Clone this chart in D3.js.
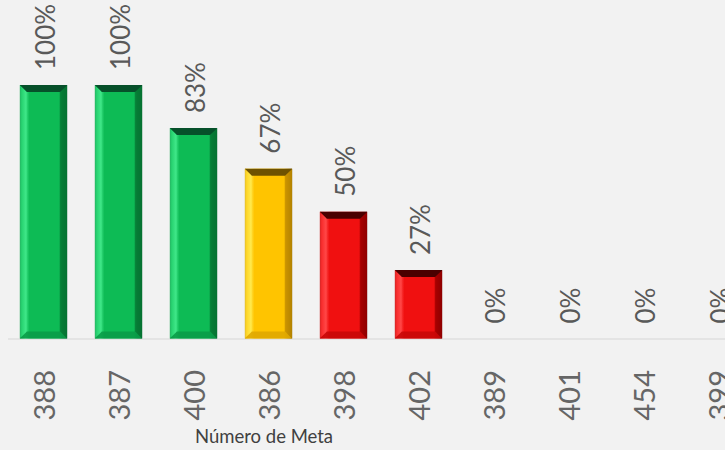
<!DOCTYPE html>
<html>
<head>
<meta charset="utf-8">
<script src="https://cdn.jsdelivr.net/npm/d3@7"></script>
<style>
  html, body { margin: 0; padding: 0; background: #f2f2f2; }
  #chart { width: 725px; height: 450px; }
</style>
</head>
<body>
<div id="chart"></div>
<script>
// Cumplimiento por número de meta - barras con bisel

const metas = ["388", "387", "400", "386", "398", "402", "389", "401", "454", "399"];
const avance = [100, 100, 83, 67, 50, 27, 0, 0, 0, 0];

// semáforo: verde >= 80, amarillo >= 60, rojo el resto
const palettes = {
  green:  { body: "#0dbb55", light: "#3ee587", dark: "#067a35", top: "#06502a", bottom: "#0a9c48" },
  yellow: { body: "#ffc400", light: "#ffe84a", dark: "#c48f00", top: "#6e5200", bottom: "#e0a800" },
  red:    { body: "#f01010", light: "#ff4545", dark: "#a00000", top: "#4a0000", bottom: "#c80808" }
};
const statusOf = v => v >= 80 ? "green" : v >= 60 ? "yellow" : "red";

function render() {
  const width = 725, height = 450;
  const svg = d3.select("#chart").append("svg")
    .attr("width", width)
    .attr("height", height)
    .style("font-family", "Lato, 'Open Sans', sans-serif");

  svg.append("rect").attr("width", width).attr("height", height).attr("fill", "#f2f2f2");

  const x = d3.scaleBand()
    .domain(metas)
    .range([6, 756])
    .paddingInner(0.37)
    .paddingOuter(0.185);

  const y = d3.scaleLinear()
    .domain([0, 100])
    .range([338.5, 85]);

  const data = metas.map((m, i) => ({ meta: m, value: avance[i], status: statusOf(avance[i]) }));

  // gradients for the body of each colour
  const defs = svg.append("defs");
  Object.entries(palettes).forEach(([k, p]) => {
    const g = defs.append("linearGradient").attr("id", "body-" + k)
      .attr("x1", 0).attr("x2", 1).attr("y1", 0).attr("y2", 0);
    [[0, p.dark], [0.04, p.body], [0.12, p.light], [0.2, p.body], [0.82, p.body], [0.9, p.dark], [1, p.top]]
      .forEach(([o, c]) => g.append("stop").attr("offset", o).attr("stop-color", c));
  });

  // baseline
  svg.append("line")
    .attr("x1", 8).attr("x2", width)
    .attr("y1", y(0) + 0.5).attr("y2", y(0) + 0.5)
    .attr("stroke", "#d6d6d6").attr("stroke-width", 1);

  const bars = svg.selectAll("g.bar")
    .data(data.filter(d => d.value > 0))
    .join("g").attr("class", "bar");

  bars.each(function(d) {
    const g = d3.select(this);
    const p = palettes[d.status];
    const x0 = x(d.meta), w = x.bandwidth();
    const y0 = y(d.value), h = y(0) - y(d.value);
    const b = Math.min(7, h / 4);

    g.append("rect")
      .attr("x", x0).attr("y", y0).attr("width", w).attr("height", h)
      .attr("fill", `url(#body-${d.status})`);

    const poly = pts => pts.map(q => q.join(",")).join(" ");
    // left facet
    g.append("polygon")
      .attr("points", poly([[x0, y0], [x0 + b, y0 + b], [x0 + b, y0 + h - b], [x0, y0 + h]]))
      .attr("fill", p.light).attr("opacity", 0.55);
    // right facet
    g.append("polygon")
      .attr("points", poly([[x0 + w, y0], [x0 + w - b, y0 + b], [x0 + w - b, y0 + h - b], [x0 + w, y0 + h]]))
      .attr("fill", p.dark).attr("opacity", 0.8);
    // bottom facet
    g.append("polygon")
      .attr("points", poly([[x0, y0 + h], [x0 + b, y0 + h - b], [x0 + w - b, y0 + h - b], [x0 + w, y0 + h]]))
      .attr("fill", p.bottom).attr("opacity", 0.9);
    // top facet
    g.append("polygon")
      .attr("points", poly([[x0, y0], [x0 + w, y0], [x0 + w - b, y0 + b], [x0 + b, y0 + b]]))
      .attr("fill", p.top);
  });

  // value labels
  svg.selectAll("text.value")
    .data(data)
    .join("text")
    .attr("class", "value")
    .attr("transform", d => `translate(${x(d.meta) + x.bandwidth() / 2 + 1},${y(d.value) - 15}) rotate(-90)`)
    .attr("text-anchor", "start")
    .attr("dominant-baseline", "central")
    .style("font-size", "26px")
    .style("fill", "#595959")
    .text(d => d.value + "%");

  // category labels
  svg.selectAll("text.cat")
    .data(data)
    .join("text")
    .attr("class", "cat")
    .attr("transform", d => `translate(${x(d.meta) + x.bandwidth() / 2},370) rotate(-90)`)
    .attr("text-anchor", "end")
    .attr("dominant-baseline", "central")
    .style("font-size", "29px")
    .style("fill", "#666")
    .text(d => d.meta);

  // axis title
  svg.append("text")
    .attr("x", 264).attr("y", 443)
    .attr("text-anchor", "middle")
    .style("font-size", "18.5px")
    .style("fill", "#404040")
    .text("Número de Meta");
}

document.addEventListener("DOMContentLoaded", render);
</script>
</body>
</html>
